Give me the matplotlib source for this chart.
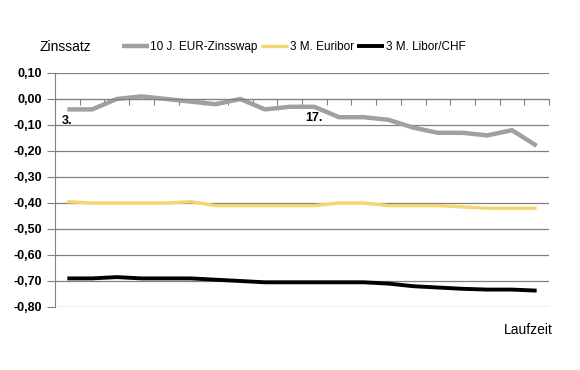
import matplotlib

matplotlib.use("Agg")
import matplotlib.pyplot as plt
import numpy as np

plt.rcParams["font.family"] = ["Liberation Sans", "DejaVu Sans"]

# Werte je Handelstag (20 Tage, Beschriftung "3." und "17." am Swap-Verlauf)
tage = list(range(1, 21))
zinsswap = [-0.04, -0.04, 0.00, 0.01, 0.00, -0.01, -0.02, 0.00, -0.04, -0.03,
            -0.03, -0.07, -0.07, -0.08, -0.11, -0.13, -0.13, -0.14, -0.12, -0.18]
euribor = [-0.395, -0.40, -0.40, -0.40, -0.40, -0.395, -0.41, -0.41, -0.41, -0.41,
           -0.41, -0.40, -0.40, -0.41, -0.41, -0.41, -0.415, -0.42, -0.42, -0.42]
libor_chf = [-0.69, -0.69, -0.685, -0.69, -0.69, -0.69, -0.695, -0.70, -0.705, -0.705,
             -0.705, -0.705, -0.705, -0.71, -0.72, -0.725, -0.73, -0.733, -0.733, -0.737]
punkt_labels = {1: "3.", 11: "17."}
y_ticks = [0.10, 0.00, -0.10, -0.20, -0.30, -0.40, -0.50, -0.60, -0.70, -0.80]

fig = plt.figure(figsize=(5.8, 3.7), dpi=100)
ax = fig.add_axes([55 / 580, 1 - 307 / 370, 494 / 580, 234 / 370])

ax.plot(tage, zinsswap, color="#a0a0a0", lw=3.2, label="10 J. EUR-Zinsswap", solid_capstyle="butt")
ax.plot(tage, euribor, color="#f5d66e", lw=2.4, label="3 M. Euribor", solid_capstyle="butt")
ax.plot(tage, libor_chf, color="black", lw=2.8, label="3 M. Libor/CHF", solid_capstyle="butt")

for idx, txt in punkt_labels.items():
    ax.annotate(txt, (tage[idx - 1], zinsswap[idx - 1]), xytext=(0, -4), textcoords="offset points",
                ha="center", va="top", fontsize=9, fontweight="bold")

ax.set_xlim(0.5, 20.5)
ax.set_ylim(-0.80, 0.10)
ax.set_yticks(y_ticks)
ax.set_yticklabels([f"{v:.2f}".replace(".", ",") for v in y_ticks], fontweight="bold", fontsize=9)
ax.yaxis.grid(True, color="#808080", lw=0.9)
ax.set_axisbelow(True)
ax.tick_params(axis="y", length=6, color="#808080", pad=3)

# Rubrikenachse kreuzt bei 0
ax.spines["bottom"].set_position(("data", 0))
ax.spines["bottom"].set_color("#808080")
ax.spines["left"].set_color("#808080")
ax.spines["top"].set_visible(False)
ax.spines["right"].set_visible(False)
ax.set_xticks(np.arange(0.5, 21, 1))
ax.set_xticklabels([])
ax.tick_params(axis="x", length=4, color="#808080", direction="out")

fig.text(40 / 580, 1 - 47 / 370, "Zinssatz", fontsize=10, va="center", ha="left")
fig.text(553 / 580, 1 - 330 / 370, "Laufzeit", fontsize=10, va="center", ha="right")

fig.legend(loc="center left", bbox_to_anchor=(122 / 580, 1 - 47 / 370), ncol=3, frameon=False,
           fontsize=8.5, handlelength=2.3, handletextpad=0.1, columnspacing=0.3,
           borderaxespad=0, borderpad=0)

fig.savefig("out.png", dpi=100)
